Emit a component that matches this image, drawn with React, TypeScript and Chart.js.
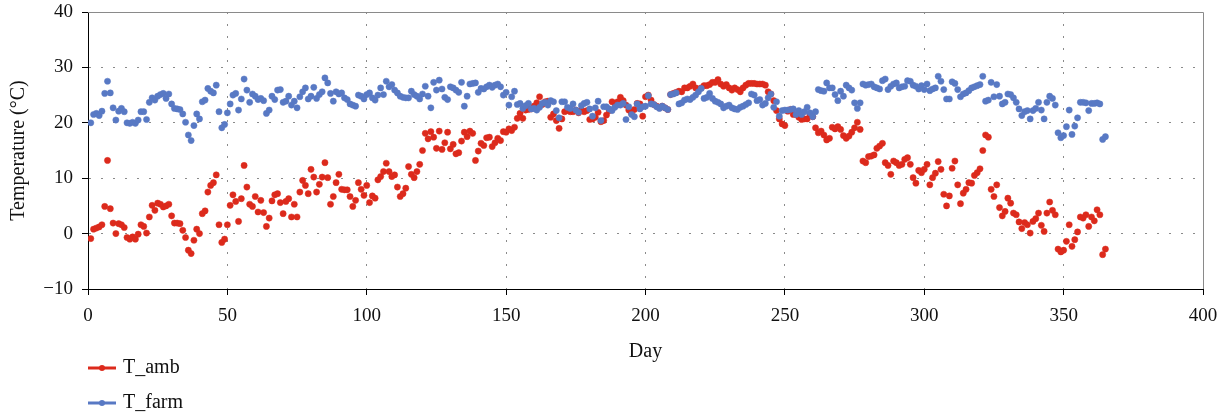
import React, { useEffect, useRef } from "react";
import { Chart, registerables } from "chart.js";

Chart.register(...registerables);

// Day index (1..365) for each reading
const DAYS: number[] = Array.from({ length: 365 }, (_, i) => i + 1);

// Ambient temperature, °C
const T_AMB: number[] = [
  -0.9, 0.8, 1.0, 1.2, 1.6, 4.9, 13.2, 4.5, 1.9, 0.0,
  1.8, 1.6, 1.1, -0.7, -1.0, -0.6, -1.0, -0.1, 1.6, 1.3,
  0.1, 3.0, 5.1, 4.2, 5.5, 5.3, 4.8, 5.0, 5.3, 3.2,
  1.9, 1.9, 1.8, 0.6, -0.7, -3.0, -3.6, -1.2, 0.8, 0.0,
  3.6, 4.1, 7.5, 8.7, 9.2, 10.6, 1.6, -1.6, -1.0, 1.6,
  5.1, 7.0, 5.8, 2.2, 6.3, 12.3, 8.4, 5.3, 4.9, 6.7,
  3.9, 6.0, 3.8, 1.3, 2.8, 5.9, 7.0, 7.2, 5.6, 3.6,
  5.8, 6.3, 3.0, 5.3, 3.0, 7.5, 9.6, 8.7, 7.2, 11.6,
  10.2, 7.5, 8.9, 10.2, 12.8, 10.1, 5.3, 6.7, 9.2, 10.7,
  8.0, 7.9, 7.9, 6.7, 4.9, 6.0, 9.2, 8.0, 6.9, 8.7,
  5.6, 6.8, 6.4, 9.7, 10.3, 11.2, 12.7, 11.2, 10.3, 10.6,
  8.4, 6.7, 7.2, 8.2, 12.1, 10.7, 10.1, 11.2, 12.5, 15.0,
  18.1, 17.1, 18.4, 17.4, 15.4, 18.5, 15.2, 16.4, 18.3, 15.3,
  16.1, 14.4, 14.6, 16.7, 18.3, 17.5, 18.5, 18.1, 13.2, 14.9,
  16.3, 15.9, 17.3, 17.4, 15.7, 16.4, 17.2, 16.8, 18.4, 18.3,
  18.9, 18.6, 19.2, 20.8, 21.7, 20.8, 22.3, 22.4, 22.5, 23.0,
  23.6, 24.7, 23.3, 23.8, 23.9, 21.0, 21.6, 20.4, 19.0, 20.7,
  22.0, 22.2, 22.0, 22.0, 22.3, 21.8, 22.3, 22.0, 22.2, 20.6,
  20.7, 21.0, 21.9, 20.2, 20.4, 21.4, 22.2, 23.8, 23.5, 23.8,
  24.6, 24.0, 23.2, 22.3, 21.7, 22.4, 23.5, 23.4, 21.2, 24.7,
  25.0, 24.1, 23.3, 23.0, 22.7, 23.0, 22.7, 22.4, 25.1, 25.3,
  25.5, 25.7, 25.6, 26.3, 26.3, 26.6, 27.0, 26.3, 26.1, 26.3,
  26.7, 26.7, 26.9, 27.3, 27.3, 27.8, 27.0, 26.6, 26.9, 26.3,
  25.9, 26.3, 26.0, 25.6, 26.3, 26.8, 27.1, 27.1, 27.1, 27.0,
  27.0, 27.0, 26.8, 25.6, 25.2, 24.0, 22.2, 20.7, 19.8, 19.5,
  22.1, 22.4, 21.5, 21.5, 21.0, 20.6, 20.7, 20.7, 21.5, 21.1,
  19.1, 18.2, 18.5, 17.8, 16.9, 17.2, 19.2, 18.9, 19.3, 18.8,
  17.7, 17.2, 17.6, 18.3, 19.1, 20.1, 18.8, 13.1, 12.8, 13.9,
  14.0, 14.2, 15.4, 15.8, 16.3, 12.8, 12.3, 10.7, 13.1, 12.8,
  12.3, 12.5, 13.4, 13.7, 12.5, 10.1, 9.1, 11.4, 11.0, 11.6,
  12.5, 8.8, 10.1, 10.9, 13.0, 11.6, 7.1, 5.0, 6.8, 11.8,
  13.1, 8.8, 5.4, 7.3, 8.0, 9.2, 9.1, 10.5, 11.0, 11.7,
  15.0, 17.8, 17.4, 8.0, 6.7, 8.8, 4.7, 3.2, 4.0, 6.4,
  5.5, 3.7, 3.4, 2.1, 0.9, 2.0, 1.6, 0.1, 2.2, 2.7,
  3.7, 1.5, 0.4, 3.7, 5.7, 4.2, 3.4, -2.8, -3.3, -3.0,
  -1.4, 1.6, -2.3, -1.1, 0.3, 3.0, 2.8, 3.4, 1.3, 3.0,
  2.3, 4.3, 3.4, -3.8, -2.8,
];

// Farm temperature, °C
const T_FARM: number[] = [
  20.0, 21.5, 21.7, 21.3, 22.1, 25.3, 27.5, 25.4, 22.7, 20.5,
  22.1, 22.6, 22.0, 20.0, 19.9, 20.1, 19.9, 20.5, 22.0, 22.0,
  20.6, 23.7, 24.5, 24.1, 24.8, 25.1, 25.3, 24.4, 25.2, 23.4,
  22.6, 22.5, 22.4, 21.6, 20.1, 17.8, 16.8, 19.5, 21.6, 20.7,
  23.8, 24.1, 26.2, 25.7, 25.4, 26.8, 22.0, 19.1, 19.7, 21.8,
  23.4, 25.0, 25.3, 22.3, 24.3, 27.9, 25.9, 23.7, 25.2, 24.8,
  24.2, 24.4, 24.0, 21.7, 22.3, 24.8, 24.2, 25.9, 26.0, 23.7,
  23.9, 24.8, 23.2, 23.9, 22.7, 24.7, 25.6, 26.3, 24.3, 24.8,
  26.4, 24.4, 25.1, 25.6, 28.1, 27.2, 25.3, 23.9, 25.6, 25.2,
  25.4, 24.5, 24.2, 23.4, 23.2, 23.0, 25.0, 24.8, 24.3, 25.1,
  25.4, 24.5, 24.1, 25.0, 26.3, 25.1, 27.5, 26.5, 26.9, 25.9,
  25.4, 24.8, 24.6, 24.5, 24.5, 25.7, 25.1, 24.8, 24.3, 25.2,
  26.6, 24.8, 22.7, 27.3, 25.9, 27.7, 26.1, 24.6, 24.2, 26.5,
  26.3, 25.9, 25.5, 27.3, 23.0, 24.8, 27.0, 27.1, 27.2, 25.5,
  26.2, 26.1, 26.5, 26.8, 26.4, 26.8, 27.0, 26.5, 25.0, 25.5,
  23.2, 24.7, 25.7, 23.3, 23.5, 22.6, 23.1, 23.5, 22.5, 22.6,
  22.3, 22.8, 23.5, 23.7, 23.2, 24.0, 23.8, 22.2, 20.9, 23.8,
  23.8, 22.8, 22.6, 23.4, 22.3, 21.9, 23.1, 23.5, 23.7, 22.5,
  21.2, 22.7, 23.9, 20.4, 22.9, 22.9, 22.5, 22.2, 22.8, 23.2,
  23.2, 23.5, 20.6, 22.9, 21.5, 21.1, 23.4, 22.5, 22.9, 23.0,
  24.9, 23.4, 23.3, 22.9, 22.6, 23.0, 22.7, 22.4, 25.1, 25.2,
  25.4, 23.4, 23.6, 24.1, 24.3, 24.2, 24.6, 25.0, 25.6, 26.2,
  24.4, 24.6, 25.3, 24.4, 23.9, 23.7, 23.4, 22.7, 23.0, 23.2,
  22.7, 22.5, 22.4, 22.8, 23.0, 23.3, 23.6, 25.2, 25.0, 24.0,
  24.2, 23.2, 23.5, 24.5, 25.2, 22.8, 23.8, 21.2, 22.2, 22.3,
  22.3, 22.4, 22.5, 21.5, 22.2, 21.5, 22.0, 22.8, 21.8, 21.1,
  22.0, 26.0, 25.8, 25.7, 27.2, 26.3, 26.3, 25.1, 24.0, 25.7,
  24.8, 26.8, 26.3, 25.9, 23.6, 22.6, 23.6, 27.0, 26.8, 26.9,
  27.0, 26.5, 26.3, 26.1, 27.6, 27.9, 26.0, 26.6, 27.0, 27.2,
  26.3, 26.5, 26.6, 27.6, 27.5, 26.8, 26.6, 26.1, 26.7, 26.0,
  27.0, 25.8, 26.1, 26.3, 28.4, 27.5, 26.0, 24.3, 24.3, 27.4,
  27.1, 26.0, 24.7, 25.2, 25.4, 25.8, 26.3, 26.5, 26.7, 26.9,
  28.4, 23.9, 24.1, 27.3, 24.7, 26.9, 24.8, 23.4, 23.7, 25.2,
  25.1, 24.5, 23.7, 22.5, 21.3, 22.0, 22.2, 20.7, 22.2, 22.6,
  23.7, 22.3, 20.7, 23.7, 24.8, 24.4, 23.2, 18.2, 17.3, 17.7,
  19.3, 22.3, 17.9, 19.4, 20.9, 23.7, 23.7, 23.6, 22.2, 23.5,
  23.5, 23.6, 23.4, 17.0, 17.5,
];

const SERIES_NAMES = ["T_amb", "T_farm"];
const SERIES_COLORS = ["#dc2a1c", "#5879c4"];
const X_TICKS = [0, 50, 100, 150, 200, 250, 300, 350, 400];
const Y_TICKS = [-10, 0, 10, 20, 30, 40];
const X_TITLE = "Day";
const Y_TITLE = "Temperature (°C)";

const FONT_FAMILY = '"Liberation Serif", "Times New Roman", serif';

const frameLegendPlugin = {
  id: "frameLegend",
  afterDraw(chart: any) {
    const { ctx, chartArea } = chart;
    const { left, right, top, bottom } = chartArea;
    ctx.save();
    // top and right frame
    ctx.strokeStyle = "#8a8a8a";
    ctx.lineWidth = 1;
    ctx.beginPath();
    ctx.moveTo(left, top + 0.5);
    ctx.lineTo(right + 0.5, top + 0.5);
    ctx.lineTo(right + 0.5, bottom);
    ctx.stroke();

    // legend
    const rows = [bottom + 79, bottom + 114];
    SERIES_NAMES.forEach((name, i) => {
      const y = rows[i];
      const color = SERIES_COLORS[i];
      ctx.strokeStyle = color;
      ctx.lineWidth = 3;
      ctx.beginPath();
      ctx.moveTo(left, y);
      ctx.lineTo(left + 28, y);
      ctx.stroke();
      ctx.fillStyle = color;
      ctx.beginPath();
      ctx.arc(left + 14, y, 3, 0, Math.PI * 2);
      ctx.fill();
      ctx.fillStyle = "#111";
      ctx.font = `20px ${FONT_FAMILY}`;
      ctx.textBaseline = "middle";
      ctx.textAlign = "left";
      ctx.fillText(name, left + 35, y);
    });
    ctx.restore();
  },
};

export default function App() {
  const canvasRef = useRef<HTMLCanvasElement | null>(null);

  useEffect(() => {
    document.body.style.margin = "0";
    const canvas = canvasRef.current;
    if (!canvas) return;

    const ambData = T_AMB.map((v, i) => ({ x: DAYS[i], y: v }));
    const farmData = T_FARM.map((v, i) => ({ x: DAYS[i], y: v }));

    const chart = new Chart(canvas, {
      type: "scatter",
      data: {
        datasets: [
          {
            label: SERIES_NAMES[0],
            data: ambData,
            backgroundColor: SERIES_COLORS[0],
            borderColor: SERIES_COLORS[0],
            pointRadius: 3.1,
            borderWidth: 0.5,
            order: 1,
          },
          {
            label: SERIES_NAMES[1],
            data: farmData,
            backgroundColor: SERIES_COLORS[1],
            borderColor: SERIES_COLORS[1],
            pointRadius: 3.1,
            borderWidth: 0.5,
            order: 0,
          },
        ],
      },
      options: {
        animation: false,
        responsive: false,
        maintainAspectRatio: false,
        layout: { padding: { left: 0, right: 28, top: 12, bottom: 53 } },
        plugins: {
          legend: { display: false },
          tooltip: { enabled: false },
        },
        scales: {
          x: {
            type: "linear",
            min: 0,
            max: 400,
            afterBuildTicks: (scale: any) => {
              scale.ticks = X_TICKS.map((v) => ({ value: v }));
            },
            afterFit: (scale: any) => {
              scale.height = 75;
              scale.paddingLeft = 0;
              scale.paddingRight = 0;
            },
            ticks: {
              font: { family: FONT_FAMILY, size: 19 },
              color: "#111",
              padding: 10,
              maxRotation: 0,
              autoSkip: false,
            },
            grid: {
              color: (c: any) =>
                c.tick && (c.tick.value === 0 || c.tick.value === 400) ? "rgba(0,0,0,0)" : "#8a8a8a",
              lineWidth: 1,
              tickColor: "#000",
              tickLength: 6,
              tickWidth: 1,
            },
            border: { display: true, color: "#000", width: 1, dash: [2, 10] },
            title: {
              display: true,
              text: X_TITLE,
              font: { family: FONT_FAMILY, size: 20 },
              color: "#111",
              padding: { top: 0, bottom: 0 },
            },
          },
          y: {
            type: "linear",
            min: -10,
            max: 40,
            afterBuildTicks: (scale: any) => {
              scale.ticks = Y_TICKS.map((v) => ({ value: v }));
            },
            afterFit: (scale: any) => {
              scale.width = 88;
              scale.paddingTop = 0;
              scale.paddingBottom = 0;
            },
            ticks: {
              font: { family: FONT_FAMILY, size: 19 },
              color: "#111",
              padding: 9,
              callback: (v: any) => String(v).replace("-", "\u2212"),
            },
            grid: {
              color: (c: any) =>
                c.tick && (c.tick.value === -10 || c.tick.value === 40) ? "rgba(0,0,0,0)" : "#8a8a8a",
              lineWidth: 1,
              tickColor: "#000",
              tickLength: 6,
              tickWidth: 1,
            },
            border: { display: true, color: "#000", width: 1, dash: [2, 10] },
            title: {
              display: true,
              text: Y_TITLE,
              font: { family: FONT_FAMILY, size: 20 },
              color: "#111",
              padding: { top: 7, bottom: 0 },
            },
          },
        },
      },
      plugins: [frameLegendPlugin],
    } as any);

    return () => chart.destroy();
  }, []);

  return (
    <div style={{ width: 1231, height: 417 }}>
      <canvas ref={canvasRef} width={1231} height={417} style={{ display: "block" }} />
    </div>
  );
}
